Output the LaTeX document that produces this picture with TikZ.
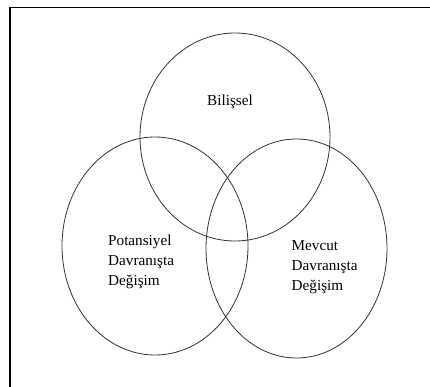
\documentclass[tikz,border=0pt]{standalone}
\usepackage{fontspec}
\setmainfont{Liberation Serif}
\begin{document}
\begin{tikzpicture}[x=1pt,y=-1pt,
  setline/.style={draw=black!80,line width=0.8pt},
  framestyle/.style={draw=black,line width=1.8pt},
  settext/.style={anchor=base west,align=left,inner sep=0pt,
    font=\fontsize{15.2}{20}\selectfont}]
  \useasboundingbox (0,0) rectangle (430,387);
  \fill[white] (0,0) rectangle (430,387);
  % open frame: top and left edges
  \draw[framestyle] (10,387) -- (10,7.5) -- (430,7.5);
  % the three sets
  \draw[setline] (235,137) ellipse [x radius=95, y radius=104];
  \draw[setline] (155,246) ellipse [x radius=93, y radius=109];
  \draw[setline] (296.5,248.5) ellipse [x radius=90.5, y radius=109.5];
  % set labels (anchored at the baseline of the last line)
  \node[settext] (bil) at (207,106) {Bilişsel};
  \node[settext] (pot) at (108,285) {Potansiyel\\Davranışta\\Değişim};
  \node[settext] (mev) at (291.5,290) {Mevcut\\Davranışta\\Değişim};
\end{tikzpicture}
\end{document}
